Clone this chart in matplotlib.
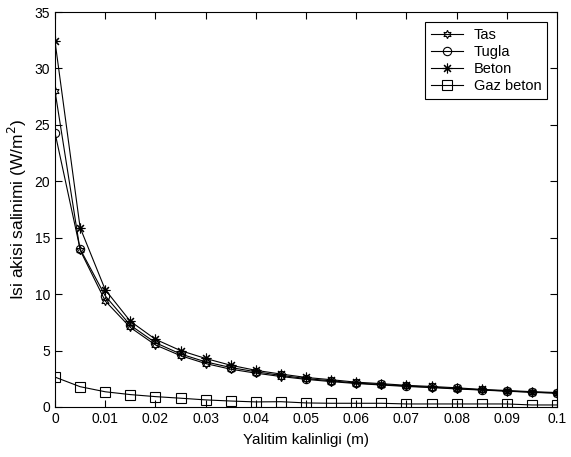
import matplotlib
matplotlib.use("Agg")
import matplotlib.pyplot as plt

plt.rcParams['font.family'] = ['Liberation Sans', 'DejaVu Sans']

thickness = [0.0, 0.005, 0.01, 0.015, 0.02, 0.025, 0.03, 0.035, 0.04, 0.045, 0.05,
             0.055, 0.06, 0.065, 0.07, 0.075, 0.08, 0.085, 0.09, 0.095, 0.1]
tas = [28.0, 13.9, 9.4, 7.05, 5.5, 4.55, 3.85, 3.35, 3.0, 2.7, 2.45,
       2.25, 2.08, 1.95, 1.82, 1.72, 1.6, 1.5, 1.4, 1.3, 1.22]
tugla = [24.3, 14.0, 9.85, 7.25, 5.7, 4.7, 4.0, 3.5, 3.12, 2.8, 2.52,
         2.32, 2.12, 2.0, 1.86, 1.76, 1.64, 1.52, 1.42, 1.32, 1.24]
beton = [32.4, 15.9, 10.4, 7.6, 6.0, 5.0, 4.3, 3.7, 3.25, 2.92, 2.62,
         2.42, 2.2, 2.07, 1.92, 1.82, 1.7, 1.56, 1.46, 1.36, 1.28]
gaz_beton = [2.65, 1.8, 1.35, 1.1, 0.92, 0.78, 0.63, 0.53, 0.45, 0.47, 0.36,
             0.33, 0.33, 0.33, 0.27, 0.27, 0.27, 0.27, 0.27, 0.18, 0.18]

names = ['Tas', 'Tugla', 'Beton', 'Gaz beton']
xticks = [0, 0.01, 0.02, 0.03, 0.04, 0.05, 0.06, 0.07, 0.08, 0.09, 0.1]
xticklabels = ['0', '0.01', '0.02', '0.03', '0.04', '0.05', '0.06', '0.07', '0.08', '0.09', '0.1']
yticks = [0, 5, 10, 15, 20, 25, 30, 35]

fig = plt.figure(figsize=(5.71, 4.57), dpi=100)
ax = fig.add_axes([55/571, 1-407/457, (557-55)/571, (407-12)/457])

common = dict(color='black', linewidth=0.8, markerfacecolor='none',
              markeredgecolor='black', markeredgewidth=0.8)
ax.plot(thickness, tas, marker=(6, 1, 0), markersize=6, label=names[0], **common)
ax.plot(thickness, tugla, marker='o', markersize=6, label=names[1], **common)
ax.plot(thickness, beton, marker=(8, 2, 0), markersize=7, label=names[2], **common)
ax.plot(thickness, gaz_beton, marker='s', markersize=6.5, label=names[3], **common)

ax.set_xlim(0, 0.1)
ax.set_ylim(0, 35)
ax.set_xticks(xticks)
ax.set_xticklabels(xticklabels)
ax.set_yticks(yticks)
ax.tick_params(direction='in', top=True, right=True, length=5, labelsize=10, width=0.8)
for s in ax.spines.values():
    s.set_linewidth(0.8)

ax.set_xlabel('Yalitim kalinligi (m)', fontsize=11, labelpad=5)
ax.set_ylabel('Isi akisi salinimi (W/m$^2$)', fontsize=12.5, labelpad=4)

leg = ax.legend(loc='upper right', bbox_to_anchor=(0.98, 0.975), fontsize=10.5,
                frameon=True, fancybox=False, edgecolor='black', framealpha=1,
                handlelength=2.2, borderpad=0.4, labelspacing=0.22, handletextpad=0.7,
                borderaxespad=0)
leg.get_frame().set_linewidth(0.8)

fig.savefig('out.png', dpi=100)
